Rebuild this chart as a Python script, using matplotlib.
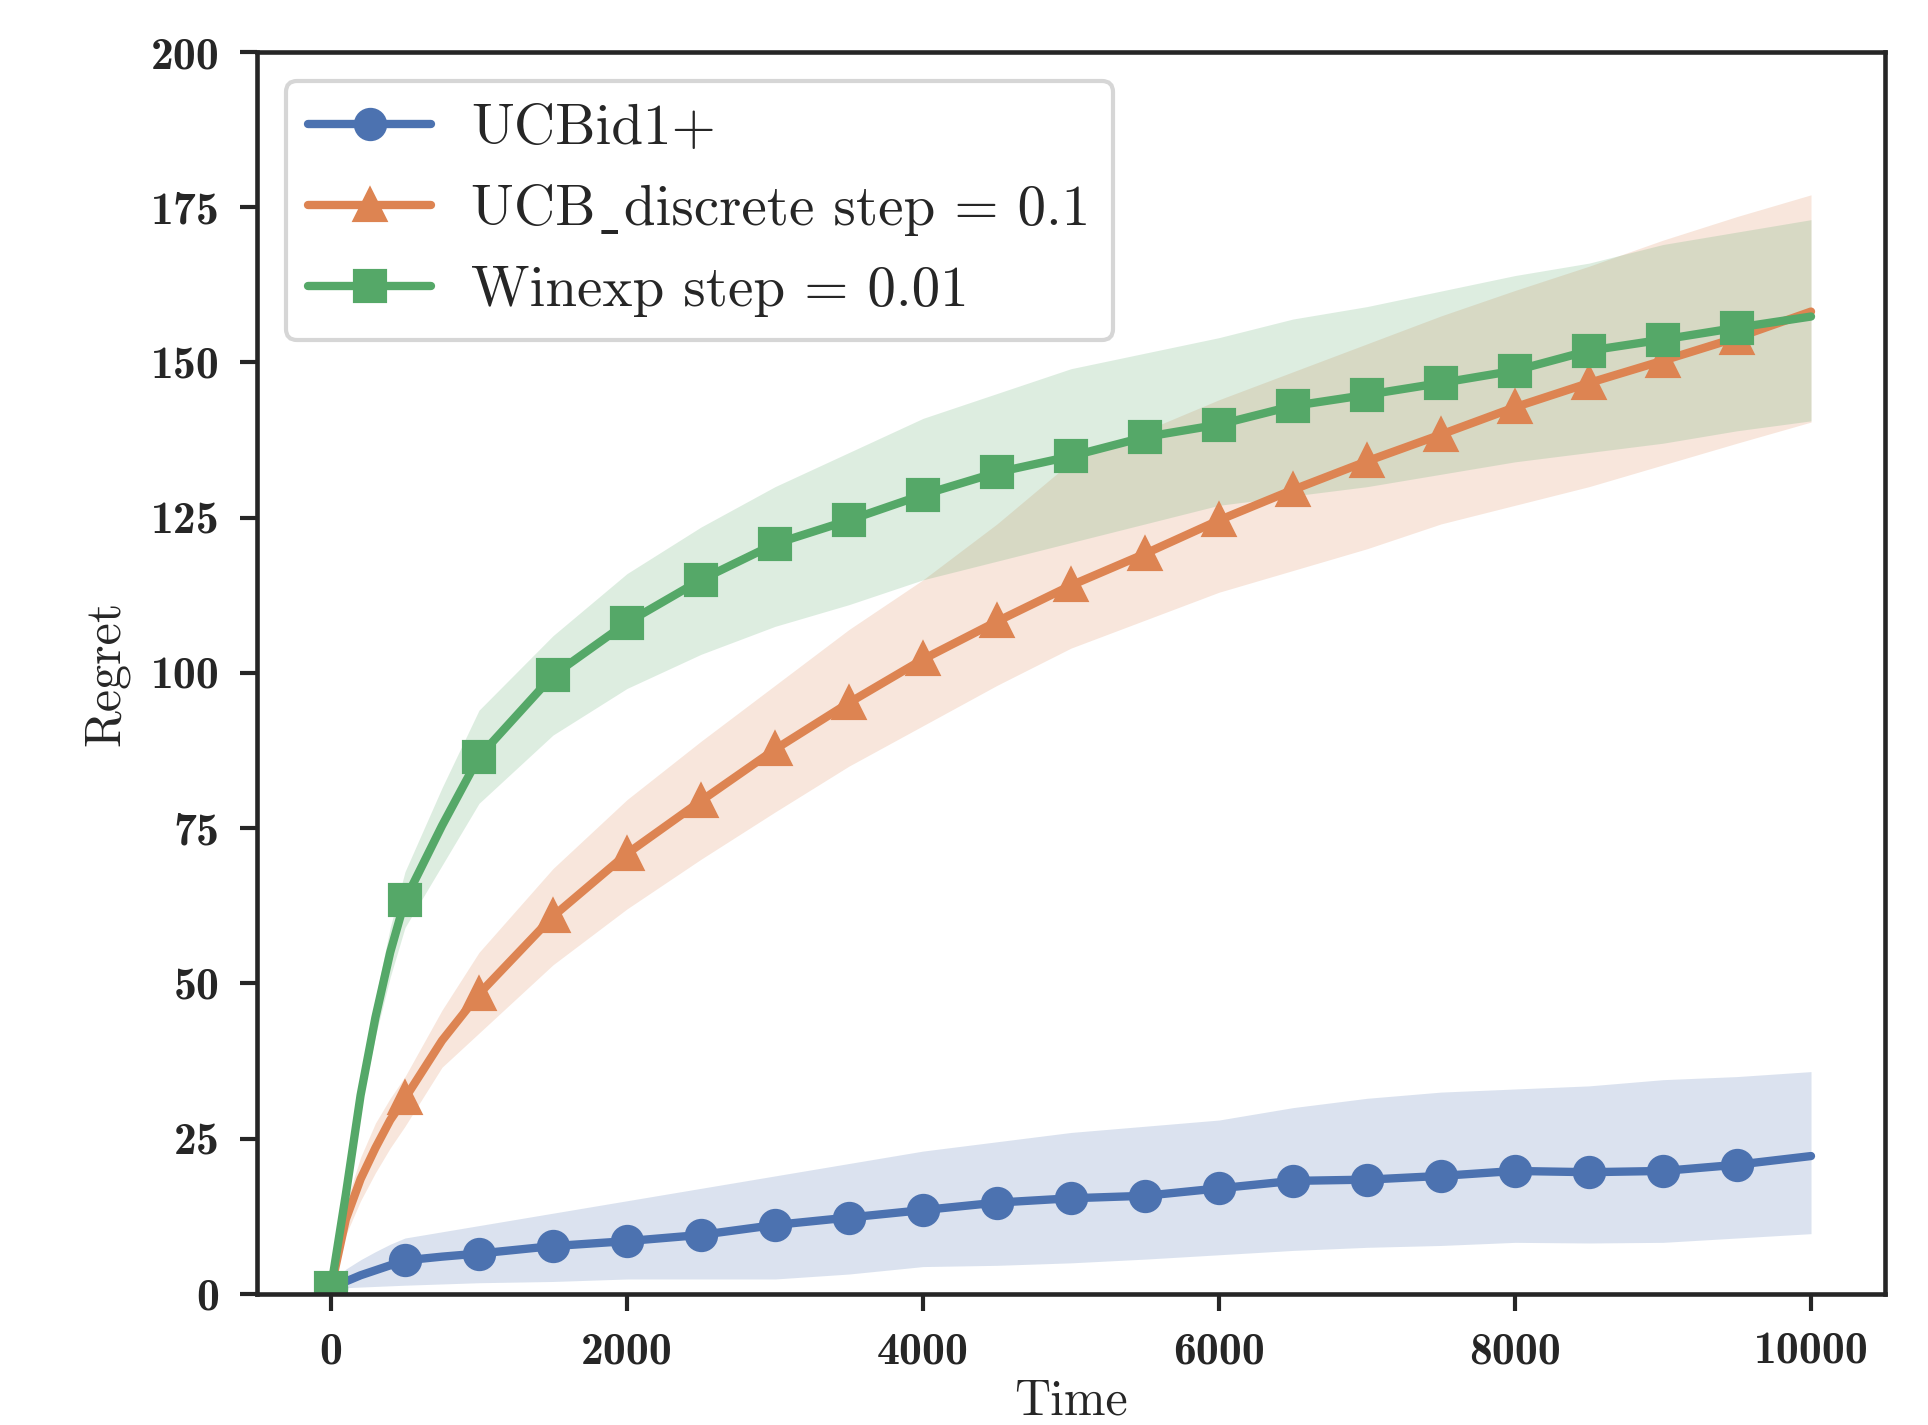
import numpy as np
import matplotlib
matplotlib.use("Agg")
import matplotlib.pyplot as plt
import seaborn as sns

sns.set_style("ticks")
plt.rcParams['font.family'] = ['cmr10', 'DejaVu Serif']
plt.rcParams['mathtext.fontset'] = 'cm'
plt.rcParams['axes.formatter.use_mathtext'] = True

# ---------------- data ----------------
time = [0, 100, 200, 300, 400, 500, 750, 1000, 1500, 2000, 2500, 3000, 3500, 4000, 4500,
        5000, 5500, 6000, 6500, 7000, 7500, 8000, 8500, 9000, 9500, 10000]

ucbid_mean = [1.0, 2.0, 3.0, 3.8, 4.6, 5.4, 6.0, 6.5, 7.7, 8.5, 9.5, 11.1, 12.3, 13.5, 14.7,
              15.4, 15.8, 17.0, 18.2, 18.4, 19.0, 19.8, 19.6, 19.8, 20.8, 22.2]
ucbid_low = [1.0, 1.0, 1.1, 1.2, 1.3, 1.4, 1.6, 1.8, 2.0, 2.4, 2.4, 2.4, 3.2, 4.4, 4.6,
             5.0, 5.6, 6.3, 7.0, 7.5, 7.8, 8.3, 8.2, 8.3, 9.0, 9.7]
ucbid_high = [1.0, 4.0, 5.5, 6.8, 8.0, 9.0, 10.0, 11.0, 13.0, 15.0, 17.0, 19.0, 21.0, 23.0, 24.5,
              26.0, 27.0, 28.0, 30.0, 31.5, 32.5, 33.0, 33.5, 34.5, 35.0, 35.8]

ucbd_mean = [1.0, 12.0, 18.5, 23.5, 28.0, 31.5, 40.8, 48.3, 60.8, 70.9, 79.4, 87.7, 95.2, 102.2, 108.3,
             114.1, 119.2, 124.6, 129.5, 134.1, 138.4, 142.8, 146.7, 150.3, 154.0, 158.2]
ucbd_low = [1.0, 9.5, 15.0, 19.5, 23.5, 27.0, 36.5, 42.0, 53.0, 62.0, 70.0, 77.6, 85.0, 91.5, 98.0,
            104.0, 108.5, 113.0, 116.5, 120.0, 124.0, 127.0, 130.0, 133.5, 137.0, 140.4]
ucbd_high = [1.0, 14.5, 22.0, 27.5, 31.5, 35.0, 45.7, 55.0, 68.5, 79.6, 89.0, 98.0, 107.0, 115.0, 124.0,
             134.0, 139.0, 144.0, 148.5, 153.0, 157.5, 161.6, 165.5, 169.7, 173.5, 177.0]

winexp_mean = [1.0, 16.0, 32.0, 44.5, 55.0, 63.4, 75.4, 86.5, 99.6, 108.1, 115.0, 120.8, 124.6, 128.7, 132.3,
               134.9, 138.0, 140.0, 143.0, 144.8, 146.7, 148.7, 151.9, 153.7, 155.6, 157.4]
winexp_low = [1.0, 15.0, 30.0, 41.5, 51.0, 59.0, 69.0, 79.0, 90.0, 97.5, 103.0, 107.5, 111.0, 115.0, 118.0,
              121.0, 124.0, 127.0, 128.5, 130.0, 132.0, 134.0, 135.5, 137.0, 139.0, 140.6]
winexp_high = [1.0, 17.0, 34.0, 47.5, 59.0, 68.0, 81.5, 94.0, 106.0, 116.0, 123.5, 130.0, 135.5, 141.0, 145.0,
               149.0, 151.5, 154.0, 157.0, 159.0, 161.5, 164.0, 166.0, 169.0, 171.0, 173.0]

labels = ["UCBid1+", "UCB\u02cddiscrete step = 0.1", "Winexp step = 0.01"]
colors = ["#4C72B0", "#DD8452", "#55A868"]
markers = ["o", "^", "s"]

x_ticks = [0, 2000, 4000, 6000, 8000, 10000]
y_ticks = [0, 25, 50, 75, 100, 125, 150, 175, 200]

# ---------------- plot ----------------
fig = plt.figure(figsize=(1928 / 300, 1425 / 300), dpi=300)
ax = fig.add_axes([0.1333, 0.092, 0.8444, 0.8715])

t = np.array(time)
mark_idx = [i for i, v in enumerate(time) if v % 500 == 0 and v < 10000]
series = [(ucbid_mean, ucbid_low, ucbid_high),
          (ucbd_mean, ucbd_low, ucbd_high),
          (winexp_mean, winexp_low, winexp_high)]

for (m, lo, hi), lab, c, mk in zip(series, labels, colors, markers):
    ax.fill_between(t, lo, hi, color=c, alpha=0.2, linewidth=0)
    ax.plot(t, m, color=c, lw=2.0, marker=mk, markevery=mark_idx,
            markersize=7, label=lab)

ax.set_xlim(-500, 10500)
ax.set_ylim(0, 200)
ax.set_xticks(x_ticks)
ax.set_yticks(y_ticks)
ax.set_xticklabels([str(v) for v in x_ticks])
ax.set_yticklabels([str(v) for v in y_ticks])
for lbl in ax.get_xticklabels() + ax.get_yticklabels():
    lbl.set_fontfamily(['cmb10', 'DejaVu Serif'])
    lbl.set_fontsize(11)
ax.tick_params(axis='both', length=4.0, width=1.0, color='#262626', pad=5)
for sp in ax.spines.values():
    sp.set_linewidth(1.1)
    sp.set_color('#262626')

ax.set_xlabel("Time", fontsize=12, labelpad=1.5)
ax.set_ylabel("Regret", fontsize=12, labelpad=5)

leg = ax.legend(loc='upper left', fontsize=13.7, frameon=True, fancybox=True,
                borderpad=0.4, handlelength=2.15, handletextpad=0.7, labelspacing=0.52)
leg.get_frame().set_edgecolor('#cccccc')
leg.get_frame().set_linewidth(1.0)

fig.savefig("out.png", dpi=300)
